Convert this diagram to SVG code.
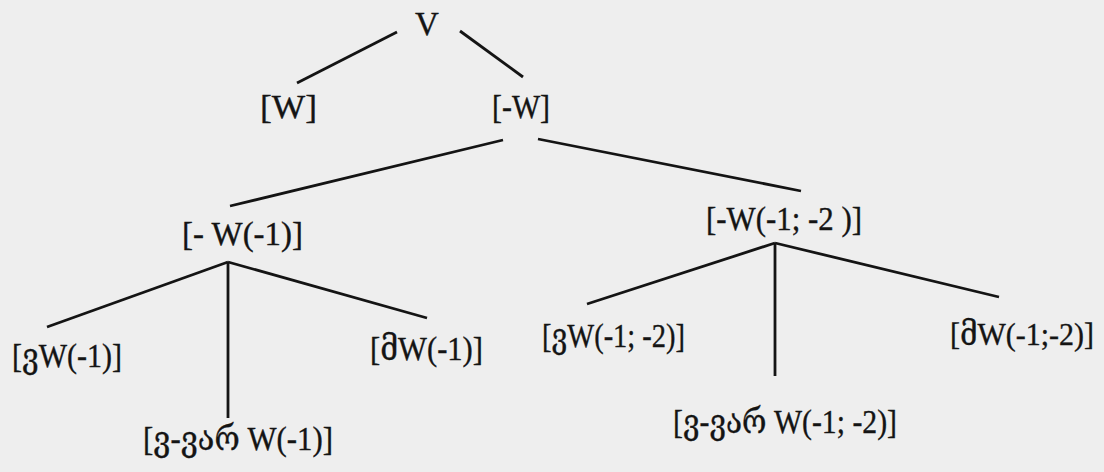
<svg xmlns="http://www.w3.org/2000/svg" width="1104" height="472" viewBox="0 0 1104 472">
<style>
.bg{fill:#eeeeee}
.edge{stroke:#141414;stroke-width:2.8;stroke-linecap:butt;fill:none}
.lbl{font-family:"Liberation Serif","DejaVu Serif","Noto Sans Georgian",serif;font-size:33px;fill:#141414;stroke:#141414;stroke-width:0.35}
.sm{font-size:31px}
</style>
<rect class="bg" x="0" y="0" width="1104" height="472"/>
<g id="connectors">
<line class="edge" x1="397" y1="32" x2="297" y2="83"/>
<line class="edge" x1="460" y1="31" x2="523" y2="77"/>
<line class="edge" x1="503" y1="140" x2="230" y2="206"/>
<line class="edge" x1="538" y1="139" x2="801" y2="191"/>
<line class="edge" x1="228" y1="262" x2="47" y2="327"/>
<line class="edge" x1="228" y1="262" x2="228" y2="418"/>
<line class="edge" x1="228" y1="262" x2="427" y2="318"/>
<line class="edge" x1="775" y1="243" x2="587" y2="304"/>
<line class="edge" x1="775" y1="243" x2="775" y2="376"/>
<line class="edge" x1="775" y1="243" x2="999" y2="297"/>
</g>
<g id="n-V"><text class="lbl" x="427" y="35" text-anchor="middle">V</text></g>
<g id="n-W"><text class="lbl" x="260" y="118" textLength="57" lengthAdjust="spacingAndGlyphs">[W]</text></g>
<g id="n-negW"><text class="lbl" x="492" y="118" textLength="58" lengthAdjust="spacingAndGlyphs">[-W]</text></g>
<g id="n-negW1"><text class="lbl" x="182" y="245" textLength="121" lengthAdjust="spacingAndGlyphs">[- W(-1)]</text></g>
<g id="n-negW12"><text class="lbl" x="706" y="230" textLength="156" lengthAdjust="spacingAndGlyphs">[-W(-1; -2 )]</text></g>
<g id="n-vW1"><text class="lbl" x="12" y="367" textLength="110" lengthAdjust="spacingAndGlyphs">[ვW(-1)]</text></g>
<g id="n-mW1"><text class="lbl" x="370" y="360" textLength="113" lengthAdjust="spacingAndGlyphs">[მW(-1)]</text></g>
<g id="n-vvarW1"><text class="lbl" x="143" y="450" textLength="190" lengthAdjust="spacingAndGlyphs">[ვ-ვარ W(-1)]</text></g>
<g id="n-vW12"><text class="lbl" x="542" y="347" textLength="143" lengthAdjust="spacingAndGlyphs">[ვW(-1; -2)]</text></g>
<g id="n-mW12"><text class="lbl sm" x="950" y="345" textLength="144" lengthAdjust="spacingAndGlyphs">[მW(-1;-2)]</text></g>
<g id="n-vvarW12"><text class="lbl" x="673" y="433" textLength="224" lengthAdjust="spacingAndGlyphs">[ვ-ვარ W(-1; -2)]</text></g>
</svg>
